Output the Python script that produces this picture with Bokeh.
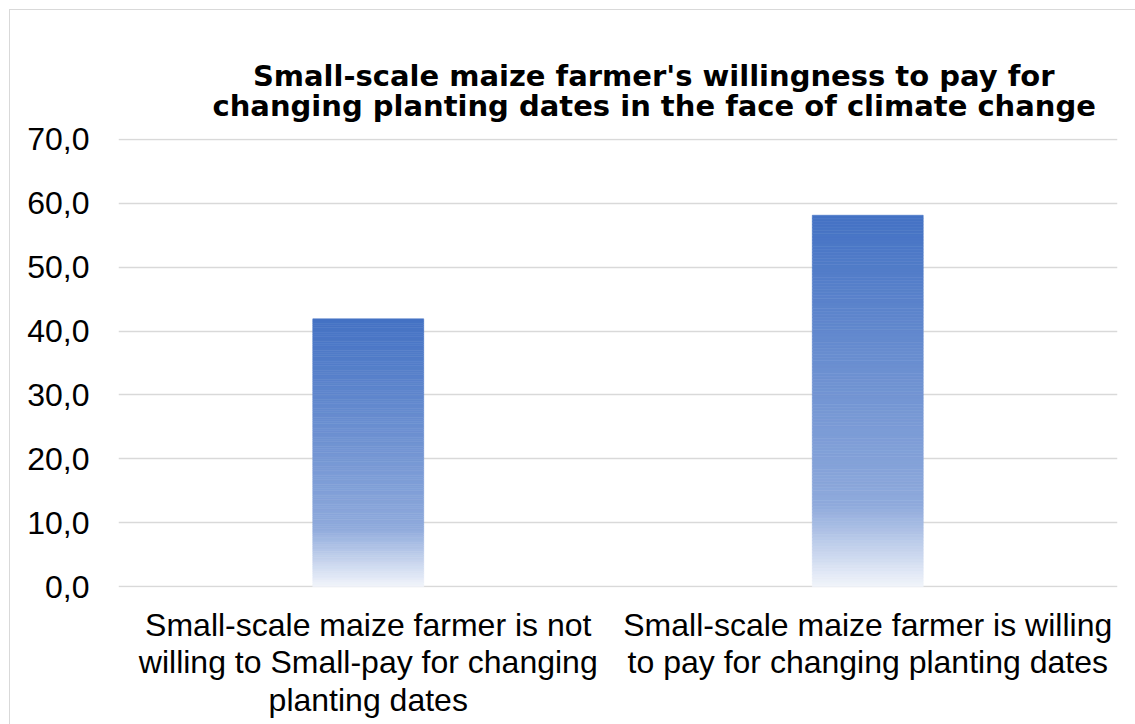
from bokeh.plotting import figure
from bokeh.models import FactorRange, Range1d, CustomJSTickFormatter, FixedTicker
from bokeh.embed import file_html
from bokeh.resources import INLINE

# ---- data ----
categories = [
    "Small-scale maize farmer is not\nwilling to Small-pay for changing\nplanting dates",
    "Small-scale maize farmer is willing\nto pay for changing planting dates",
]
values = [41.9, 58.1]
y_ticks = [0, 10, 20, 30, 40, 50, 60, 70]
title_lines = ["Small-scale maize farmer's willingness to pay for",
               "changing planting dates in the face of climate change"]

FONT = "Liberation Sans"
TFONT = "DejaVu Sans"

p = figure(
    x_range=FactorRange(*categories, range_padding=0),
    y_range=Range1d(-0.1, 70.1),
    width=1125, height=714,
    output_backend="svg", toolbar_location=None,
    min_border_left=108, min_border_right=18,
    min_border_top=128, min_border_bottom=137,
)
p.margin = (10, 0, 0, 10)
p.styles = {"outline": "1.5px solid #d9d9d9"}

# two-line title; the shorter first line is indented so both lines are centred
p.title.text = "\u00a0" * 4 + title_lines[0] + "\n" + title_lines[1]
p.title.align = "left"
p.title.offset = 94
p.title.text_font = TFONT
p.title.text_font_size = "29px"
p.title.text_font_style = "bold"
p.title.text_color = "#000000"
p.title.text_line_height = 0.89
p.title.standoff = 30

p.outline_line_color = None
p.background_fill_color = "white"
p.border_fill_color = "white"

# gradient bars: stacked thin slices
def lerp(c1, c2, t):
    return tuple(int(round(a + (b - a) * t)) for a, b in zip(c1, c2))

top_c = (68, 114, 196)
mid_c = (143, 170, 220)
bot_c = (242, 245, 251)
N = 120
bar_w = 0.222
for cat, v in zip(categories, values):
    xs, bots, tops, cols = [], [], [], []
    for i in range(N):
        f0 = i / N
        f1 = (i + 1) / N
        fm = 1 - (f0 + f1) / 2  # fraction from the top
        if fm <= 0.78:
            c = lerp(top_c, mid_c, fm / 0.78)
        else:
            c = lerp(mid_c, bot_c, (fm - 0.78) / 0.22)
        xs.append(cat)
        bots.append(v * f0)
        tops.append(v * f1)
        cols.append("#%02x%02x%02x" % c)
    p.vbar(x=xs, bottom=bots, top=tops, width=bar_w, fill_color=cols,
           line_color=cols, line_width=0.6)

# axes
p.yaxis.ticker = FixedTicker(ticks=y_ticks)
p.yaxis.formatter = CustomJSTickFormatter(code="return tick.toFixed(1).replace('.', ',');")
p.yaxis.axis_line_color = None
p.yaxis.major_tick_line_color = None
p.yaxis.minor_tick_line_color = None
p.yaxis.major_tick_out = 0
p.yaxis.major_label_standoff = 29
p.yaxis.major_label_text_font = FONT
p.yaxis.major_label_text_font_size = "32px"
p.yaxis.major_label_text_color = "#000000"

p.xaxis.axis_line_color = None
p.xaxis.major_tick_line_color = None
p.xaxis.major_tick_out = 0
p.xaxis.major_label_standoff = 19
p.xaxis.major_label_text_font = FONT
p.xaxis.major_label_text_font_size = "32px"
p.xaxis.major_label_text_color = "#000000"
p.xaxis.major_label_text_line_height = 1.05
p.xaxis.major_label_orientation = "horizontal"

p.xgrid.grid_line_color = None
p.ygrid.grid_line_color = "#d9d9d9"
p.ygrid.grid_line_width = 1.5

open("out.html", "w").write(file_html(p, INLINE))
